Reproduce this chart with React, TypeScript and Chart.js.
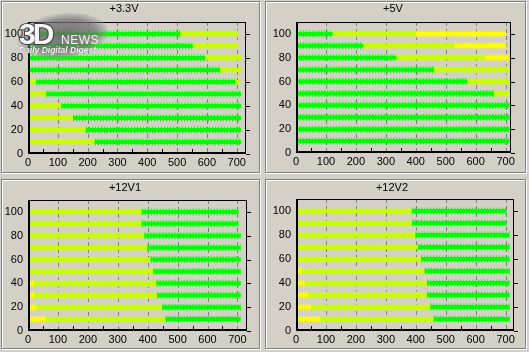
import React, { useEffect, useRef } from "react";
import { Chart, registerables } from "chart.js";
Chart.register(...registerables);

// ---------- data ----------
const rowLoads = [100, 90, 80, 70, 60, 50, 40, 30, 20, 10];
const xTicks = [0, 100, 200, 300, 400, 500, 600, 700];
const xGridLines = [100, 200, 300, 400, 500, 600, 700];
const xMinorTicks = [50, 150, 250, 350, 450, 550, 650];
const yTicks = [0, 20, 40, 60, 80, 100];

// zone codes: g = green, l = lime, y = yellow
// each row: breakpoints [start, ..., end] with one zone per segment
const v33Breaks = [
  [4, 510, 705], [4, 552, 705], [4, 594, 714], [4, 644, 714], [4, 28, 695, 711],
  [4, 62, 714], [4, 112, 714], [4, 151, 714], [4, 194, 714], [4, 224, 714],
];
const v33Zones = [
  ["g", "l"], ["g", "l"], ["g", "l"], ["g", "l"], ["l", "g", "l"],
  ["l", "g"], ["l", "g"], ["l", "g"], ["l", "g"], ["l", "g"],
];

const v5Breaks = [
  [4, 122, 400, 700], [4, 224, 530, 702], [4, 335, 630, 711], [4, 461, 713], [4, 572, 713],
  [4, 661, 713], [4, 713], [4, 713], [4, 713], [4, 713],
];
const v5Zones = [
  ["g", "l", "y"], ["g", "l", "y"], ["g", "l", "y"], ["g", "l"], ["g", "l"],
  ["g", "l"], ["g"], ["g"], ["g"], ["g"],
];

const v12aBreaks = [
  [4, 380, 703], [4, 380, 703], [4, 389, 711], [4, 399, 711], [4, 410, 711],
  [4, 419, 711], [4, 20, 430, 711], [4, 20, 432, 711], [4, 28, 449, 711], [4, 61, 460, 711],
];
const v12aZones = [
  ["l", "g"], ["l", "g"], ["l", "g"], ["l", "g"], ["l", "g"],
  ["l", "g"], ["y", "l", "g"], ["y", "l", "g"], ["y", "l", "g"], ["y", "l", "g"],
];

const v12bBreaks = [
  [4, 388, 702], [4, 388, 702], [4, 399, 713], [4, 408, 713], [4, 418, 713],
  [4, 20, 430, 713], [4, 31, 438, 713], [4, 40, 438, 713], [4, 51, 449, 713], [4, 81, 460, 713],
];
const v12bZones = [
  ["l", "g"], ["l", "g"], ["l", "g"], ["l", "g"], ["l", "g"],
  ["y", "l", "g"], ["y", "l", "g"], ["y", "l", "g"], ["y", "l", "g"], ["y", "l", "g"],
];

const zoneColors: Record<string, string> = { g: "#00ff00", l: "#c8ff00", y: "#ffff00" };
const FONT = '"Liberation Sans", Arial, sans-serif';

// ---------- plugin ----------
const framePlugin = {
  id: "frame",
  beforeDatasetsDraw(chart: any) {
    const { ctx, chartArea: a, scales } = chart;
    const x = scales.x;
    ctx.save();
    ctx.strokeStyle = "#808080";
    ctx.lineWidth = 1;
    ctx.setLineDash([4, 3]);
    for (const v of xGridLines) {
      const px = Math.round(x.getPixelForValue(v)) + 0.5;
      ctx.beginPath();
      ctx.moveTo(px, a.top);
      ctx.lineTo(px, a.bottom);
      ctx.stroke();
    }
    ctx.restore();
  },
  afterDatasetsDraw(chart: any, _args: any, opts: any) {
    const { ctx, chartArea: a, scales } = chart;
    const x = scales.x;
    const y = scales.y;
    ctx.save();
    ctx.setLineDash([]);
    ctx.strokeStyle = "#000";
    ctx.fillStyle = "#000";
    ctx.lineWidth = 1;
    ctx.strokeRect(Math.round(a.left) + 0.5, Math.round(a.top) + 0.5, Math.round(a.width) - 1, Math.round(a.height) - 1);
    ctx.fillRect(Math.round(a.left), Math.round(a.top), 2, Math.round(a.height));
    ctx.fillRect(Math.round(a.left), Math.round(a.bottom) - 2, Math.round(a.width), 2);
    for (const v of yTicks) {
      const py = Math.round(y.getPixelForValue(v)) + 0.5;
      ctx.beginPath();
      ctx.moveTo(Math.round(a.right), py);
      ctx.lineTo(Math.round(a.right) + 4, py);
      ctx.stroke();
    }
    for (const v of xMinorTicks) {
      const px = Math.round(x.getPixelForValue(v)) + 0.5;
      ctx.beginPath();
      ctx.moveTo(px, Math.round(a.bottom) - 2);
      ctx.lineTo(px, Math.round(a.bottom) - 5);
      ctx.stroke();
    }
    ctx.font = `11px ${FONT}`;
    ctx.textAlign = "center";
    ctx.textBaseline = "middle";
    ctx.fillText(opts.title, opts.tx, opts.ty);
    ctx.restore();
  },
};

type PanelProps = {
  left: number; top: number; w: number; h: number;
  L: number; R: number; T: number; B: number;
  xMax: number; title: string; tx: number; ty: number;
  breaks: number[][]; zones: string[][];
  watermark?: boolean;
};

function buildDatasets(breaks: number[][], zones: string[][]) {
  const ds: any[] = [];
  for (const code of ["g", "l", "y"]) {
    const data: any[] = [];
    breaks.forEach((b, i) => {
      zones[i].forEach((z, j) => {
        if (z !== code) return;
        data.push({ x: b[j], y: rowLoads[i] });
        data.push({ x: b[j + 1], y: rowLoads[i] });
        data.push({ x: b[j + 1], y: null });
      });
    });
    if (!data.length) continue;
    const color = zoneColors[code];
    ds.push({
      data, borderColor: color, backgroundColor: color, borderWidth: 4,
      pointRadius: 0, spanGaps: false, borderCapStyle: "butt",
    });
    ds.push({
      data, borderColor: color, backgroundColor: color, borderWidth: 7,
      borderDash: [1, 2], pointRadius: 0, spanGaps: false, borderCapStyle: "butt",
    });
  }
  return ds;
}

function Panel(p: PanelProps) {
  const ref = useRef<HTMLCanvasElement>(null);
  useEffect(() => {
    const canvas = ref.current!;
    const chart = new Chart(canvas, {
      type: "line",
      data: { datasets: buildDatasets(p.breaks, p.zones) },
      plugins: [framePlugin as any],
      options: {
        animation: false,
        responsive: false,
        devicePixelRatio: 1,
        layout: { padding: { left: 0, top: p.T, right: p.w - p.R, bottom: 0 } },
        plugins: {
          legend: { display: false },
          tooltip: { enabled: false },
          title: { display: false },
          frame: { title: p.title, tx: p.tx, ty: p.ty },
        } as any,
        scales: {
          x: {
            type: "linear", min: 0, max: p.xMax,
            afterBuildTicks: (s: any) => { s.ticks = xTicks.map((v) => ({ value: v })); },
            afterFit: (s: any) => { s.height = p.h - p.B; },
            ticks: { color: "#000", font: { family: FONT, size: 11 }, padding: 2, maxRotation: 0, autoSkip: false },
            grid: { display: false, drawTicks: false },
            border: { display: false },
          },
          y: {
            type: "linear", min: 0, max: 110,
            afterBuildTicks: (s: any) => { s.ticks = yTicks.map((v) => ({ value: v })); },
            afterFit: (s: any) => { s.width = p.L; },
            ticks: { color: "#000", font: { family: FONT, size: 11 }, padding: 5, autoSkip: false },
            grid: { display: false, drawTicks: false },
            border: { display: false },
          },
        },
      },
    });
    return () => chart.destroy();
  }, []);
  return (
    <div style={{ position: "absolute", left: p.left, top: p.top, width: p.w, height: p.h }}>
      <div style={{
        position: "absolute", left: 0, top: 0, width: p.w - 1, height: p.h - 1, boxSizing: "border-box",
        border: "1px solid #808080", boxShadow: "inset 1px 1px 0 #fff, 1px 1px 0 #fff",
      }} />
      <canvas ref={ref} width={p.w} height={p.h} style={{ position: "absolute", left: 0, top: 0, width: p.w, height: p.h }} />
      {p.watermark && (
        <div style={{ position: "absolute", left: 14, top: 10, width: 96, height: 52, pointerEvents: "none" }}>
          <div style={{
            position: "absolute", left: 2, top: 2, width: 92, height: 46, transform: "rotate(-7deg)",
            background: "radial-gradient(ellipse at 50% 50%, rgba(100,100,100,0.85) 0%, rgba(115,115,115,0.75) 50%, rgba(160,160,160,0.3) 68%, rgba(200,200,200,0) 72%)",
            borderRadius: "50%",
          }} />
          <div style={{
            position: "absolute", left: 4, top: 8, fontFamily: FONT, fontWeight: "bold",
            fontSize: 30, lineHeight: "30px", color: "#f4f4f4", WebkitTextStroke: "2px #3a3a3a",
            paintOrder: "stroke fill", letterSpacing: -3,
          } as any}>3D</div>
          <div style={{
            position: "absolute", left: 46, top: 23, fontFamily: FONT, fontSize: 12, lineHeight: "12px",
            color: "#f4f4f4", letterSpacing: 0.5,
          }}>NEWS</div>
          <div style={{
            position: "absolute", left: 4, top: 35, fontFamily: FONT, fontWeight: "bold", fontStyle: "italic",
            fontSize: 8.5, lineHeight: "9px", color: "#f4f4f4", whiteSpace: "nowrap",
            textShadow: "0 0 1px #555",
          }}>Daily Digital Digest</div>
        </div>
      )}
    </div>
  );
}

export default function App() {
  return (
    <div style={{ position: "fixed", left: 0, top: 0, width: 529, height: 352, background: "#d4d0c8", overflow: "hidden" }}>
      <Panel left={1} top={1} w={260} h={173} L={27} R={245} T={21} B={153} xMax={731}
        title="+3.3V" tx={123} ty={8} breaks={v33Breaks} zones={v33Zones} watermark />
      <Panel left={265} top={1} w={262} h={173} L={31} R={246} T={21} B={152} xMax={718}
        title="+5V" tx={128} ty={8} breaks={v5Breaks} zones={v5Zones} />
      <Panel left={1} top={179} w={260} h={171} L={27} R={246} T={21} B={152} xMax={732}
        title="+12V1" tx={124} ty={9} breaks={v12aBreaks} zones={v12aZones} />
      <Panel left={265} top={179} w={262} h={171} L={31} R={249} T={20} B={152} xMax={728}
        title="+12V2" tx={127} ty={9} breaks={v12bBreaks} zones={v12bZones} />
    </div>
  );
}
